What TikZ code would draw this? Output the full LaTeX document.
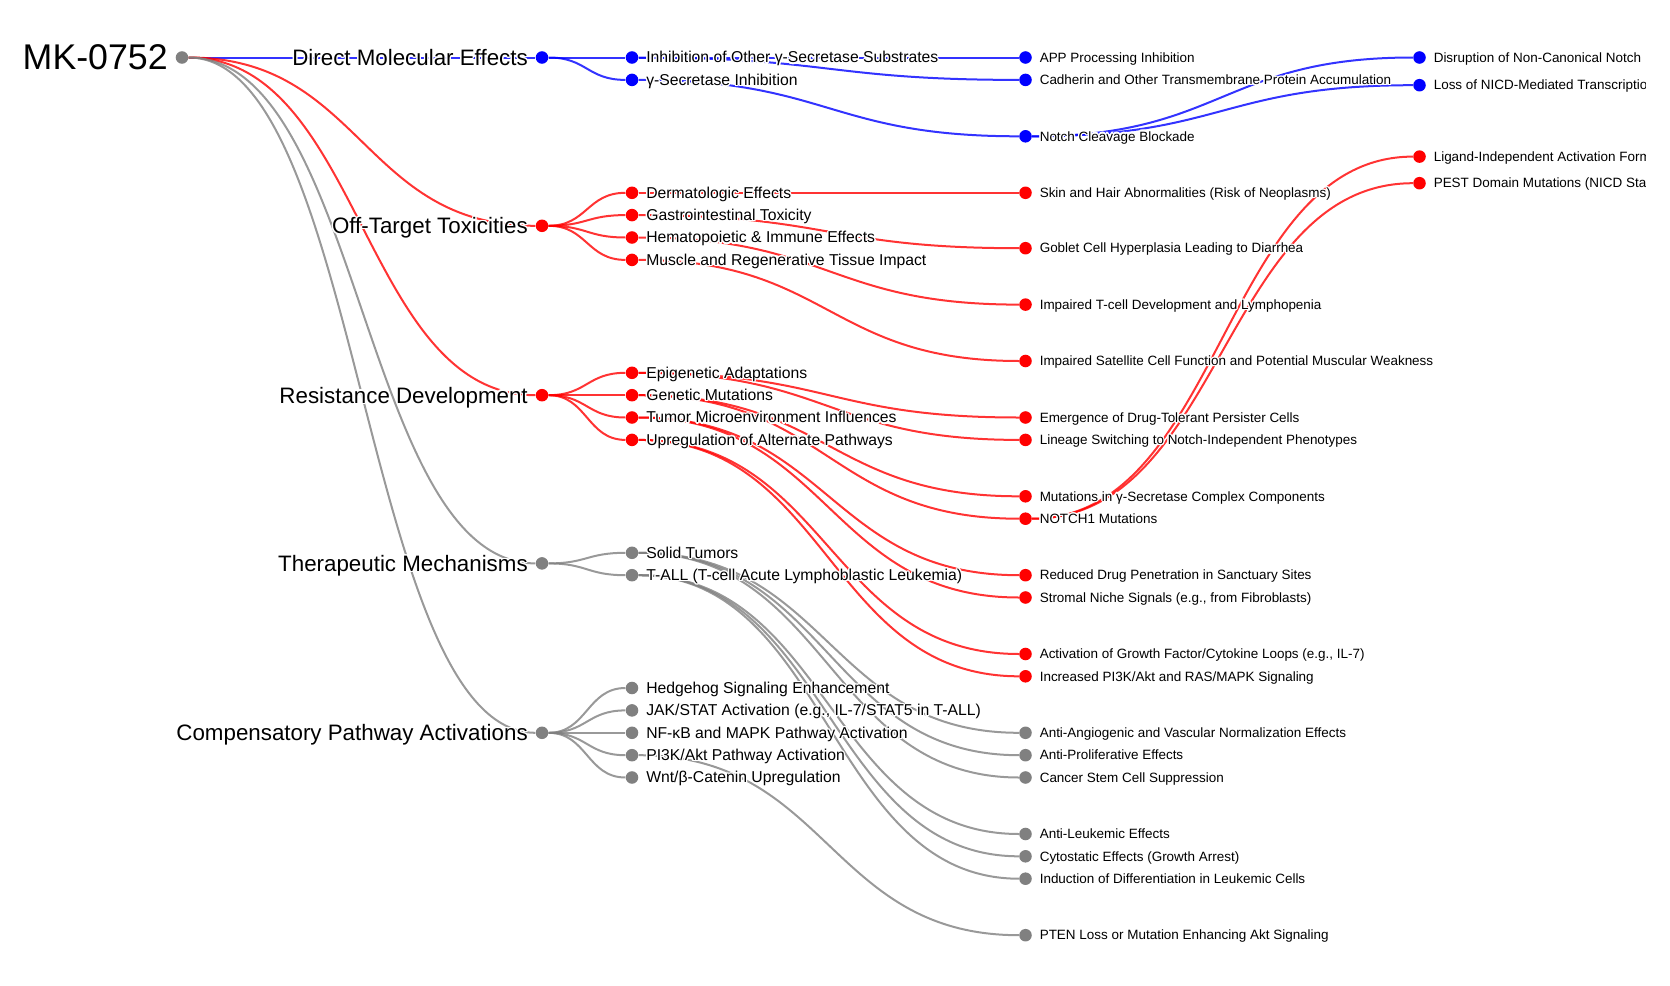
\documentclass[tikz,border=0pt]{standalone}
\usepackage{fontspec}
\setmainfont{Liberation Sans}
\usepackage[copies]{contour}
\contourlength{0.9pt}
\usetikzlibrary{positioning,backgrounds}

\definecolor{blu}{RGB}{0,0,255}
\definecolor{rosso}{RGB}{255,0,0}
\definecolor{grigio}{RGB}{128,128,128}

\begin{document}
\begin{tikzpicture}[
  x=0.75pt, y=-0.75pt,
  pallino/.style={circle, inner sep=0pt, minimum size=9.4pt},
  pblu/.style={pallino, fill=blu},
  prosso/.style={pallino, fill=rosso},
  pgrigio/.style={pallino, fill=grigio},
  ramo/.style={line width=1.5pt, draw opacity=0.8},
  rblu/.style={ramo, draw=blu},
  rrosso/.style={ramo, draw=rosso},
  rgrigio/.style={ramo, draw=grigio},
  etichetta/.style={inner sep=0pt},
  liv0/.style={etichetta, font=\fontsize{26.8}{30}\selectfont,
               text height=24.1pt, text depth=5.4pt},
  liv1/.style={etichetta, font=\fontsize{16.75}{19}\selectfont,
               text height=15.1pt, text depth=3.35pt},
  liv2/.style={etichetta, font=\fontsize{11.8}{14}\selectfont,
               text height=10.6pt, text depth=2.4pt},
  liv3/.style={etichetta, font=\fontsize{10.1}{12}\selectfont,
               text height=9.1pt, text depth=2pt}
]
\useasboundingbox (0,0) rectangle (1670,985);

%--------------------------------------------------------------
% Radice e primo livello
%--------------------------------------------------------------
\node[pgrigio] (mk) at (182,57.5) {};
\node[pblu]    (dme)  at (542,57.5)  {};
\node[prosso]  (ott)  at (542,225.8) {};
\node[prosso]  (resd) at (542,395.2) {};
\node[pgrigio] (ther) at (542,563.4) {};
\node[pgrigio] (comp) at (542,732.8) {};

%--------------------------------------------------------------
% Secondo livello
%--------------------------------------------------------------
\node[pblu]    (inh)  at (632,57.5)  {};
\node[pblu]    (gsi)  at (632,79.9)  {};
\node[prosso]  (derm) at (632,192.8) {};
\node[prosso]  (gast) at (632,215.1) {};
\node[prosso]  (hema) at (632,237.5) {};
\node[prosso]  (musc) at (632,259.9) {};
\node[prosso]  (epig) at (632,372.8) {};
\node[prosso]  (genm) at (632,395.2) {};
\node[prosso]  (tumi) at (632,417.5) {};
\node[prosso]  (upal) at (632,439.9) {};
\node[pgrigio] (soli) at (632,552.8) {};
\node[pgrigio] (tall) at (632,575.2) {};
\node[pgrigio] (hedg) at (632,688)   {};
\node[pgrigio] (jaks) at (632,710.4) {};
\node[pgrigio] (nfkb) at (632,732.8) {};
\node[pgrigio] (piak) at (632,755.2) {};
\node[pgrigio] (wntb) at (632,777.5) {};

%--------------------------------------------------------------
% Terzo livello
%--------------------------------------------------------------
\node[pblu]    (app)  at (1025.5,57.5)  {};
\node[pblu]    (cadh) at (1025.5,79.9)  {};
\node[pblu]    (notc) at (1025.5,136.3) {};
\node[prosso]  (skin) at (1025.5,192.8) {};
\node[prosso]  (gobl) at (1025.5,248.2) {};
\node[prosso]  (tcel) at (1025.5,304.6) {};
\node[prosso]  (sate) at (1025.5,361)   {};
\node[prosso]  (emer) at (1025.5,417.5) {};
\node[prosso]  (lins) at (1025.5,439.9) {};
\node[prosso]  (mgsc) at (1025.5,496.3) {};
\node[prosso]  (not1) at (1025.5,518.7) {};
\node[prosso]  (redu) at (1025.5,575.2) {};
\node[prosso]  (stro) at (1025.5,597.5) {};
\node[prosso]  (agfc) at (1025.5,654)   {};
\node[prosso]  (ipra) at (1025.5,676.3) {};
\node[pgrigio] (anga) at (1025.5,732.8) {};
\node[pgrigio] (anpr) at (1025.5,755.2) {};
\node[pgrigio] (cscs) at (1025.5,777.5) {};
\node[pgrigio] (anle) at (1025.5,834)   {};
\node[pgrigio] (cyto) at (1025.5,856.3) {};
\node[pgrigio] (indu) at (1025.5,878.7) {};
\node[pgrigio] (pten) at (1025.5,935.2) {};

%--------------------------------------------------------------
% Quarto livello
%--------------------------------------------------------------
\node[pblu]   (dnc)  at (1419.5,57.5)  {};
\node[pblu]   (lnic) at (1419.5,85.2)  {};
\node[prosso] (liga) at (1419.5,156.6) {};
\node[prosso] (pest) at (1419.5,183.2) {};

%--------------------------------------------------------------
% Rami, disegnati sotto i pallini
%--------------------------------------------------------------
\begin{scope}[on background layer]
\foreach \figlio/\stile in {dme/rblu, ott/rrosso, resd/rrosso,
                            ther/rgrigio, comp/rgrigio}
  \draw[\stile] (mk) .. controls +(180,0) and +(-180,0) .. (\figlio);

\foreach \padre/\figlio/\stile in {dme/inh/rblu, dme/gsi/rblu,
    ott/derm/rrosso, ott/gast/rrosso, ott/hema/rrosso, ott/musc/rrosso,
    resd/epig/rrosso, resd/genm/rrosso, resd/tumi/rrosso, resd/upal/rrosso,
    ther/soli/rgrigio, ther/tall/rgrigio,
    comp/hedg/rgrigio, comp/jaks/rgrigio, comp/nfkb/rgrigio,
    comp/piak/rgrigio, comp/wntb/rgrigio}
  \draw[\stile] (\padre) .. controls +(45,0) and +(-45,0) .. (\figlio);

\foreach \padre/\figlio/\stile in {inh/app/rblu, inh/cadh/rblu, gsi/notc/rblu,
    derm/skin/rrosso, gast/gobl/rrosso, hema/tcel/rrosso, musc/sate/rrosso,
    epig/emer/rrosso, epig/lins/rrosso, genm/mgsc/rrosso, genm/not1/rrosso,
    tumi/redu/rrosso, tumi/stro/rrosso, upal/agfc/rrosso, upal/ipra/rrosso,
    soli/anga/rgrigio, soli/anpr/rgrigio, soli/cscs/rgrigio,
    tall/anle/rgrigio, tall/cyto/rgrigio, tall/indu/rgrigio,
    piak/pten/rgrigio}
  \draw[\stile] (\padre) .. controls +(196.7,0) and +(-196.7,0) .. (\figlio);

\foreach \padre/\figlio/\stile in {notc/dnc/rblu, notc/lnic/rblu,
                                   not1/liga/rrosso, not1/pest/rrosso}
  \draw[\stile] (\padre) .. controls +(197,0) and +(-197,0) .. (\figlio);
\end{scope}

%--------------------------------------------------------------
% Etichette a sinistra (radice e primo livello)
%--------------------------------------------------------------
\node[liv0, left=5.6pt of mk] (mk-t) {\contour{white}{MK-0752}};
\node[liv1, left=5.6pt of dme]  (dme-t)  {\contour{white}{Direct Molecular Effects}};
\node[liv1, left=5.6pt of ott]  (ott-t)  {\contour{white}{Off-Target Toxicities}};
\node[liv1, left=5.6pt of resd] (resd-t) {\contour{white}{Resistance Development}};
\node[liv1, left=5.6pt of ther] (ther-t) {\contour{white}{Therapeutic Mechanisms}};
\node[liv1, left=5.6pt of comp] (comp-t) {\contour{white}{Compensatory Pathway Activations}};

%--------------------------------------------------------------
% Etichette del secondo livello
%--------------------------------------------------------------
\node[liv2, right=5.6pt of inh]  (inh-t)  {\contour{white}{Inhibition of Other γ-Secretase Substrates}};
\node[liv2, right=5.6pt of gsi]  (gsi-t)  {\contour{white}{γ-Secretase Inhibition}};
\node[liv2, right=5.6pt of derm] (derm-t) {\contour{white}{Dermatologic Effects}};
\node[liv2, right=5.6pt of gast] (gast-t) {\contour{white}{Gastrointestinal Toxicity}};
\node[liv2, right=5.6pt of hema] (hema-t) {\contour{white}{Hematopoietic \& Immune Effects}};
\node[liv2, right=5.6pt of musc] (musc-t) {\contour{white}{Muscle and Regenerative Tissue Impact}};
\node[liv2, right=5.6pt of epig] (epig-t) {\contour{white}{Epigenetic Adaptations}};
\node[liv2, right=5.6pt of genm] (genm-t) {\contour{white}{Genetic Mutations}};
\node[liv2, right=5.6pt of tumi] (tumi-t) {\contour{white}{Tumor Microenvironment Influences}};
\node[liv2, right=5.6pt of upal] (upal-t) {\contour{white}{Upregulation of Alternate Pathways}};
\node[liv2, right=5.6pt of soli] (soli-t) {\contour{white}{Solid Tumors}};
\node[liv2, right=5.6pt of tall] (tall-t) {\contour{white}{T-ALL (T-cell Acute Lymphoblastic Leukemia)}};
\node[liv2, right=5.6pt of hedg] (hedg-t) {\contour{white}{Hedgehog Signaling Enhancement}};
\node[liv2, right=5.6pt of jaks] (jaks-t) {\contour{white}{JAK/STAT Activation (e.g., IL-7/STAT5 in T-ALL)}};
\node[liv2, right=5.6pt of nfkb] (nfkb-t) {\contour{white}{NF-κB and MAPK Pathway Activation}};
\node[liv2, right=5.6pt of piak] (piak-t) {\contour{white}{PI3K/Akt Pathway Activation}};
\node[liv2, right=5.6pt of wntb] (wntb-t) {\contour{white}{Wnt/β-Catenin Upregulation}};

%--------------------------------------------------------------
% Etichette del terzo livello
%--------------------------------------------------------------
\node[liv3, right=5.6pt of app]  (app-t)  {\contour{white}{APP Processing Inhibition}};
\node[liv3, right=5.6pt of cadh] (cadh-t) {\contour{white}{Cadherin and Other Transmembrane Protein Accumulation}};
\node[liv3, right=5.6pt of notc] (notc-t) {\contour{white}{Notch Cleavage Blockade}};
\node[liv3, right=5.6pt of skin] (skin-t) {\contour{white}{Skin and Hair Abnormalities (Risk of Neoplasms)}};
\node[liv3, right=5.6pt of gobl] (gobl-t) {\contour{white}{Goblet Cell Hyperplasia Leading to Diarrhea}};
\node[liv3, right=5.6pt of tcel] (tcel-t) {\contour{white}{Impaired T-cell Development and Lymphopenia}};
\node[liv3, right=5.6pt of sate] (sate-t) {\contour{white}{Impaired Satellite Cell Function and Potential Muscular Weakness}};
\node[liv3, right=5.6pt of emer] (emer-t) {\contour{white}{Emergence of Drug-Tolerant Persister Cells}};
\node[liv3, right=5.6pt of lins] (lins-t) {\contour{white}{Lineage Switching to Notch-Independent Phenotypes}};
\node[liv3, right=5.6pt of mgsc] (mgsc-t) {\contour{white}{Mutations in γ-Secretase Complex Components}};
\node[liv3, right=5.6pt of not1] (not1-t) {\contour{white}{NOTCH1 Mutations}};
\node[liv3, right=5.6pt of redu] (redu-t) {\contour{white}{Reduced Drug Penetration in Sanctuary Sites}};
\node[liv3, right=5.6pt of stro] (stro-t) {\contour{white}{Stromal Niche Signals (e.g., from Fibroblasts)}};
\node[liv3, right=5.6pt of agfc] (agfc-t) {\contour{white}{Activation of Growth Factor/Cytokine Loops (e.g., IL-7)}};
\node[liv3, right=5.6pt of ipra] (ipra-t) {\contour{white}{Increased PI3K/Akt and RAS/MAPK Signaling}};
\node[liv3, right=5.6pt of anga] (anga-t) {\contour{white}{Anti-Angiogenic and Vascular Normalization Effects}};
\node[liv3, right=5.6pt of anpr] (anpr-t) {\contour{white}{Anti-Proliferative Effects}};
\node[liv3, right=5.6pt of cscs] (cscs-t) {\contour{white}{Cancer Stem Cell Suppression}};
\node[liv3, right=5.6pt of anle] (anle-t) {\contour{white}{Anti-Leukemic Effects}};
\node[liv3, right=5.6pt of cyto] (cyto-t) {\contour{white}{Cytostatic Effects (Growth Arrest)}};
\node[liv3, right=5.6pt of indu] (indu-t) {\contour{white}{Induction of Differentiation in Leukemic Cells}};
\node[liv3, right=5.6pt of pten] (pten-t) {\contour{white}{PTEN Loss or Mutation Enhancing Akt Signaling}};

%--------------------------------------------------------------
% Etichette del quarto livello, tagliate al bordo destro
%--------------------------------------------------------------
\begin{scope}
\clip (0,0) rectangle (1645,985);
\node[liv3, right=5.6pt of dnc]  (dnc-t)  {\contour{white}{Disruption of Non-Canonical Notch}};
\node[liv3, right=5.6pt of lnic] (lnic-t) {\contour{white}{Loss of NICD-Mediated Transcription}};
\node[liv3, right=5.6pt of liga] (liga-t) {\contour{white}{Ligand-Independent Activation Forms}};
\node[liv3, right=5.6pt of pest] (pest-t) {\contour{white}{PEST Domain Mutations (NICD Stabilization)}};
\end{scope}

\end{tikzpicture}
\end{document}
